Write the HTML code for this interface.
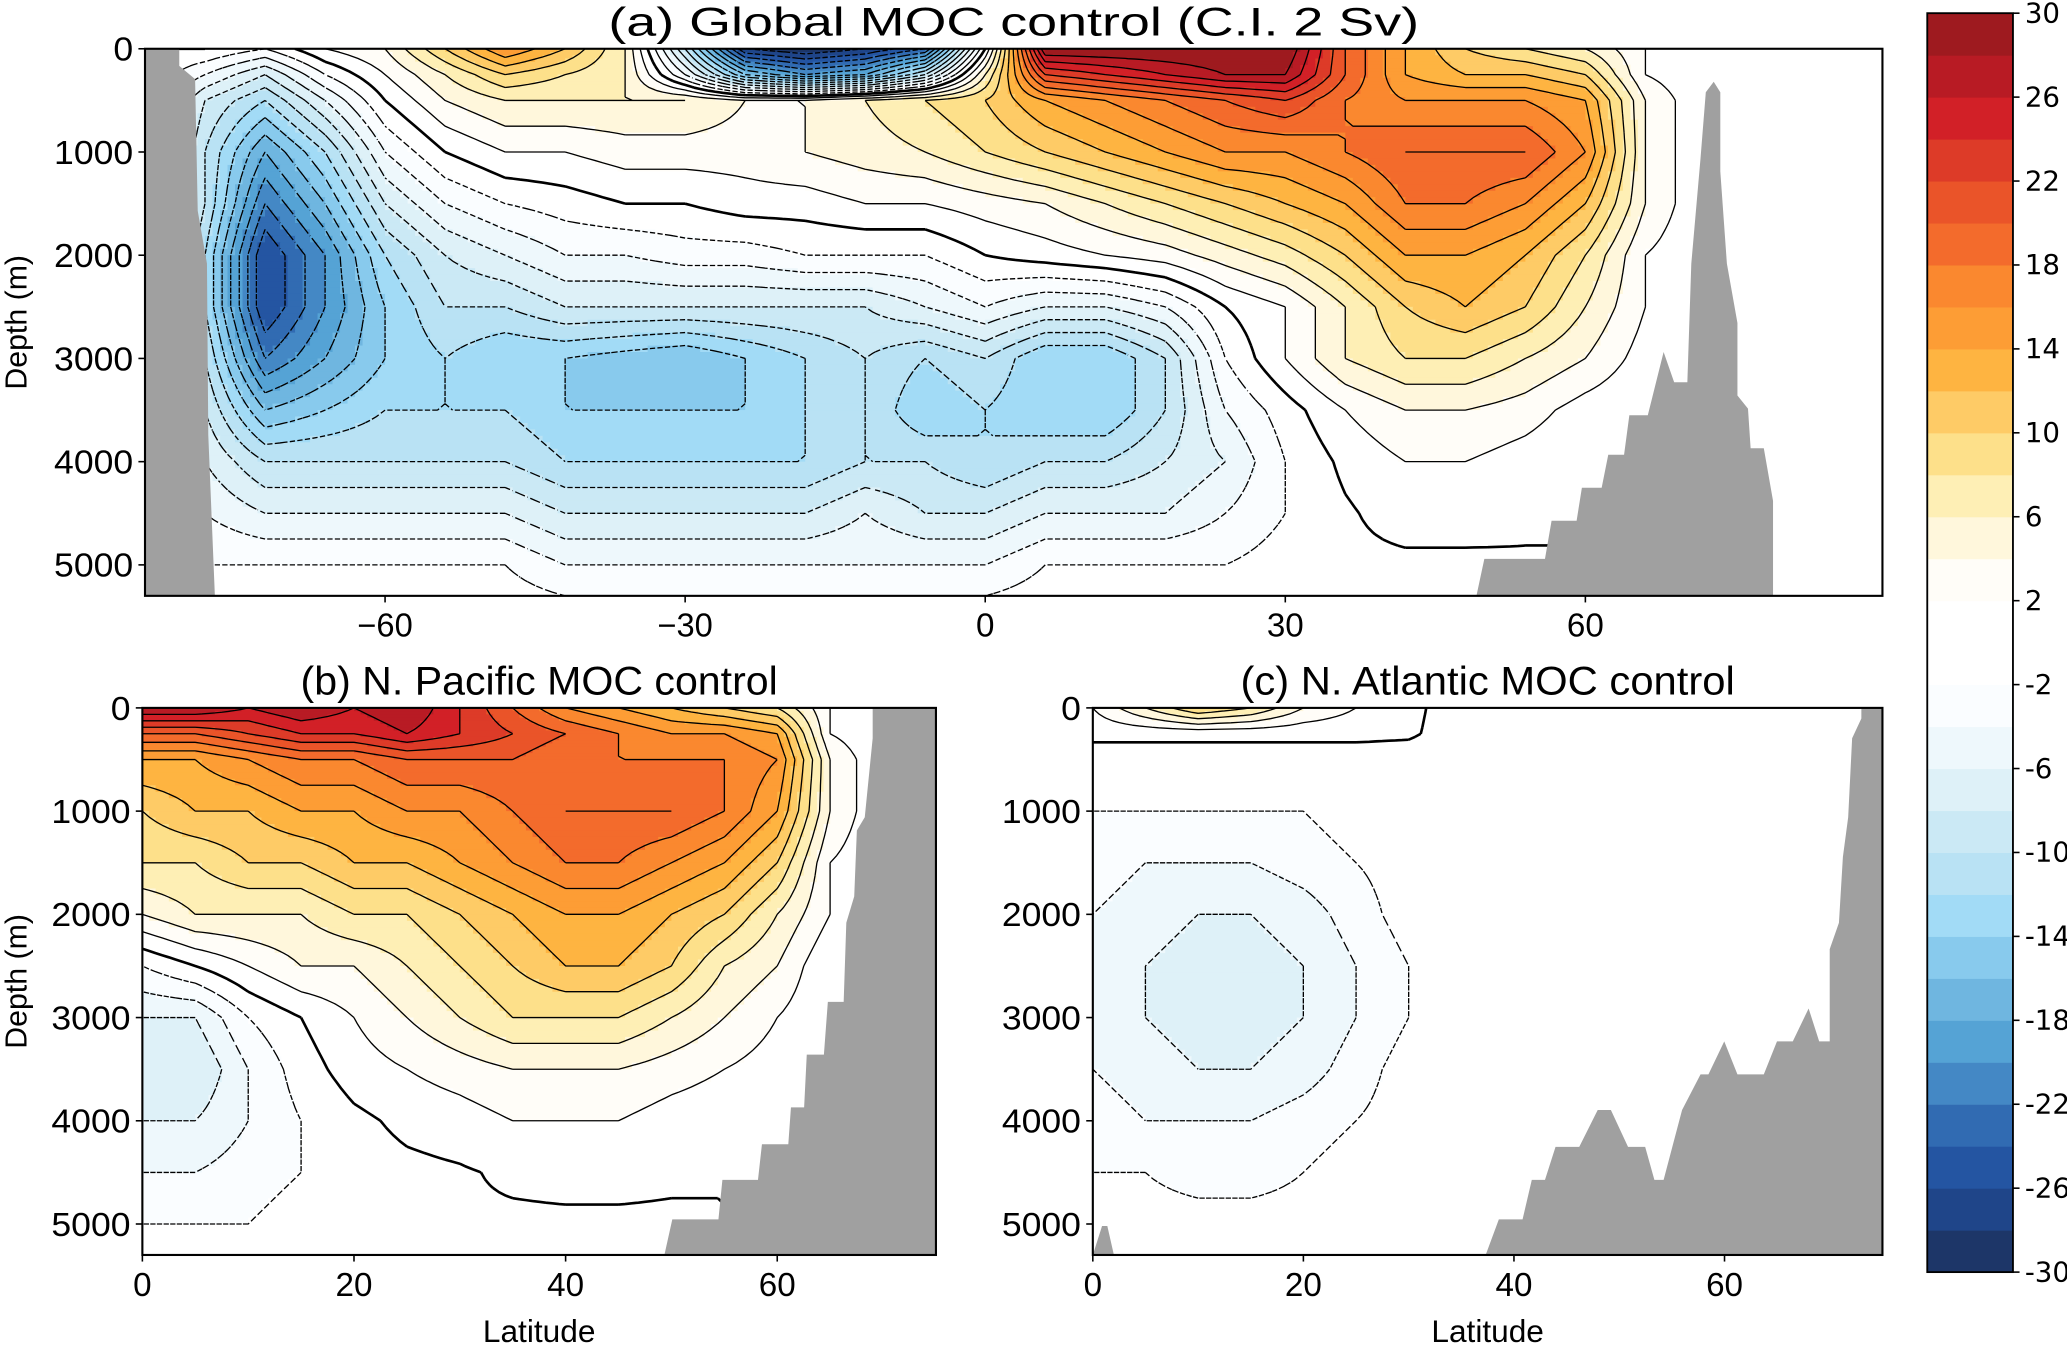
<!DOCTYPE html>
<html><head><meta charset="utf-8"><style>
html,body{margin:0;padding:0;background:#fff;}
svg{display:block;}
text{font-family:"Liberation Sans Narrow","Liberation Sans",sans-serif;fill:#000;}
.tk{font-size:25px;}
.cbt{font-family:"DejaVu Sans","Liberation Sans",sans-serif;font-size:21px;}
</style></head><body>
<svg id="fig" width="2067" height="1345" viewBox="0 0 1568 1020.3" preserveAspectRatio="none" xmlns="http://www.w3.org/2000/svg">
<rect width="1568" height="1021" fill="#fff"/>
<g id="panels"></g>
<g id="cbar"></g>
</svg>
<script>
// ---- data ----
const depthsAll = [0,250,500,1000,1500,2000,2500,3000,3500,4000,4500,5000,5300];
const latsGlobal = [-84,-78,-72,-66,-60,-54,-48,-42,-36,-30,-24,-18,-12,-6,0,6,12,18,24,30,36,42,48,54,60,66,72,78,84,90];
const globalMOC = [
[0,0,-2,2,4,10,16,12,6,-10,-28,-30,-28,-24,0,30,30,30,30,30,20,14,10,8,6,2,0,0,0,0],
[0,-4,-8,-2,2,6,10,8,6,-4,-16,-20,-18,-10,6,22,24,26,28,28,20,14,12,12,10,2,0,0,0,0],
[0,-8,-12,-6,0,4,6,6,6,6,4,4,6,8,10,14,16,18,20,22,18,16,16,16,14,4,0,0,0,0],
[0,-10,-18,-12,-4,0,2,2,3,3,3,4,5,6,8,10,12,14,16,16,18,20,20,20,16,4,0,0,0,0],
[0,-10,-22,-16,-8,-4,-2,-1,0,0,1,1,2,2,3,4,6,8,10,12,14,18,18,16,12,4,0,0,0,0],
[0,-12,-26,-20,-12,-8,-6,-4,-4,-3,-3,-2,-2,-2,0,1,2,3,5,7,10,14,14,12,8,2,0,0,0,0],
[0,-12,-26,-20,-14,-10,-10,-8,-8,-8,-8,-8,-8,-6,-4,-6,-6,-4,0,2,6,10,12,10,6,2,0,0,0,0],
[0,-10,-22,-18,-14,-12,-14,-14,-15,-16,-14,-12,-10,-12,-10,-14,-14,-10,-2,2,6,8,8,6,4,1,0,0,0,0],
[0,-8,-16,-14,-12,-12,-12,-14,-14,-14,-14,-12,-10,-14,-12,-14,-14,-10,-4,-1,2,4,4,3,1,0,0,0,0,0],
[0,-6,-10,-10,-10,-10,-10,-12,-12,-12,-12,-12,-10,-10,-12,-10,-10,-8,-6,-2,0.5,2,2,1,0,0,0,0,0,0],
[0,-4,-6,-6,-6,-6,-6,-8,-8,-8,-8,-8,-6,-8,-8,-6,-6,-6,-4,-2,-0.3,1,1,0.5,0,0,0,0,0,0],
[0,-2,-2,-2,-2,-2,-2,-4,-4,-4,-4,-4,-4,-4,-4,-2,-2,-2,-2,-1,-0.5,-0.5,-0.5,-0.3,0,0,0,0,0,0],
[0,-1,-1,-1,-1,-1,-1,-2,-2,-2,-2,-2,-2,-2,-2,-1,-1,-1,-1,-0.5,-0.3,-0.3,-0.3,-0.3,0,0,0,0,0,0]
];
const latsNorth = [0,5,10,15,20,25,30,35,40,45,50,55,60,65,70,75];
const pacificMOC = [
[28,28,26,28,26,28,24,20,16,14,12,10,8,2,0,0],
[20,20,22,24,24,26,24,22,20,18,16,16,14,2,0,0],
[14,14,16,18,18,20,20,20,18,18,18,18,16,4,0,0],
[10,12,12,14,14,16,16,18,20,20,20,18,14,4,0,0],
[8,8,10,10,12,12,14,16,18,18,16,14,10,2,0,0],
[4,6,6,6,8,8,10,12,14,14,12,10,6,2,0,0],
[-2,0,2,4,4,6,8,10,12,12,10,6,4,0,0,0],
[-6,-6,-2,0,2,4,6,8,8,8,6,4,2,0,0,0],
[-8,-8,-4,-1,1,2,3,4,4,4,3,2,1,0,0,0],
[-6,-6,-4,-2,-0.5,0.5,1,2,2,2,1,0.5,0,0,0,0],
[-4,-4,-3,-2,-1,-0.5,-0.2,0.3,0.5,0.5,0.3,0,0,0,0,0],
[-2,-2,-2,-1,-0.5,-0.3,-0.2,-0.3,-0.3,-0.3,-0.3,0,0,0,0,0],
[-1,-1,-1,-0.5,-0.3,-0.2,-0.2,-0.3,-0.3,-0.3,-0.3,0,0,0,0,0]
];
const atlanticMOC = [
[2,6,10,8,4,2,0.5,-1,-1,-1,-1,-1,-1,-1,-1,-1],
[0.5,0.5,0.5,0.5,0.5,0.5,0.3,-1,-1,-1,-1,-1,-1,-1,-1,-1],
[-1,-1,-1,-1,-1,-1,-1,-1,-1,-1,-1,-1,-1,-1,-1,-1],
[-2,-2,-2,-2,-2,-1,-1,-1,-1,-1,-1,-1,-1,-1,-1,-1],
[-3,-4,-4,-4,-3,-2,-1,-1,-1,-1,-1,-1,-1,-1,-1,-1],
[-4,-5,-6,-6,-5,-3,-1,-1,-1,-1,-1,-1,-1,-1,-1,-1],
[-5,-6,-7,-7,-6,-4,-2,-1,-1,-1,-1,-1,-1,-1,-1,-1],
[-5,-6,-7,-7,-6,-4,-2,-1,-1,-1,-1,-1,-1,-1,-1,-1],
[-4,-5,-6,-6,-5,-3,-1,-1,-1,-1,-1,-1,-1,-1,-1,-1],
[-3,-4,-4,-4,-3,-2,-1,-1,-1,-1,-1,-1,-1,-1,-1,-1],
[-2,-2,-3,-3,-2,-1,-1,-1,-1,-1,-1,-1,-1,-1,-1,-1],
[-1,-1,-1,-1,-1,-1,-1,-1,-1,-1,-1,-1,-1,-1,-1,-1],
[-1,-1,-1,-1,-1,-1,-1,-1,-1,-1,-1,-1,-1,-1,-1,-1]
];
const cbarTicks = [30,26,22,18,14,10,6,2,-2,-6,-10,-14,-18,-22,-26,-30];
const levelColors = ["#1d3668","#1f4589","#2455a2","#316bb2","#4488c5","#55a3d5","#6fb6e0","#88caed","#a2dbf6","#b9e2f4","#cbe9f5","#def1f8","#eef8fc","#fafdff","#ffffff","#ffffff","#fffdf8","#fff7dc","#feefb5","#fde08a","#fecb66","#feb441","#fd9d35","#fa882f","#f36b2c","#ea5429","#dd3b28","#d22027","#b81b24","#9e1a1f"];

const NS="http://www.w3.org/2000/svg";
function mk(tag,attrs,parent){const e=document.createElementNS(NS,tag);for(const k in attrs)e.setAttribute(k,attrs[k]);if(parent)parent.appendChild(e);return e;}
function colorOf(v){let i=Math.floor((v+30)/2);if(i<0)i=0;if(i>29)i=29;return levelColors[i];}

function drawPanel(p){
  const root=document.getElementById('panels');
  const g=mk('g',{},root);
  
  
  const xs=l=>p.x0+(l-p.latMin)/(p.latMax-p.latMin)*(p.x1-p.x0);
  const ys=d=>p.y0+d/5300*(p.y1-p.y0);
  const cid='clip-'+p.name;
  const cp=mk('clipPath',{id:cid},g);mk('rect',{x:p.x0,y:p.y0,width:p.x1-p.x0,height:p.y1-p.y0},cp);
  const fg=mk('g',{'clip-path':'url(#'+cid+')'},g);
  
  
  const S=8;
  const lats=p.lats,deps=depthsAll,V=p.vals;
  const F=[];const FX=[];const FY=[];
  for(let j=0;j<deps.length-1;j++)for(let b=0;b<(j==deps.length-2?S+1:S);b++){
    const t=b/S;FY.push(ys(deps[j]+(deps[j+1]-deps[j])*t));
    const row=[];
    for(let i=0;i<lats.length-1;i++)for(let a=0;a<(i==lats.length-2?S+1:S);a++){
      const s=a/S;
      const v=(1-t)*((1-s)*V[j][i]+s*V[j][i+1])+t*((1-s)*V[j+1][i]+s*V[j+1][i+1]);
      row.push(v);
    }
    F.push(row);
  }
  for(let i=0;i<lats.length-1;i++)for(let a=0;a<(i==lats.length-2?S+1:S);a++)FX.push(xs(lats[i]+(lats[i+1]-lats[i])*a/S));
  for(let r=0;r<F.length-1;r++){
    const yA=FY[r],yB=FY[r+1];
    let c0=0;
    for(let c=1;c<=FX.length-1;c++){
      const col=colorOf((F[r][c0]+F[r+1][c0]+F[r][Math.min(c0+1,FX.length-1)]+F[r+1][Math.min(c0+1,FX.length-1)])/4);
      let nc=null;
      if(c<FX.length-1)nc=colorOf((F[r][c]+F[r+1][c]+F[r][c+1]+F[r+1][c+1])/4);
      if(nc!==col){
        mk('rect',{x:FX[c0].toFixed(2),y:yA.toFixed(2),width:(FX[c]-FX[c0]+0.6).toFixed(2),height:(yB-yA+0.6).toFixed(2),fill:col},fg);
        c0=c;
      }
    }
  }
  const lv=[];for(let L=-28;L<=28;L+=2)lv.push(L);
  lv.forEach(L=>{
    let d='';
    for(let r=0;r<F.length-1;r++)for(let c=0;c<FX.length-1;c++){
      const v=[F[r][c],F[r][c+1],F[r+1][c+1],F[r+1][c]];
      const P=[[FX[c],FY[r]],[FX[c+1],FY[r]],[FX[c+1],FY[r+1]],[FX[c],FY[r+1]]];
      const pts=[];
      for(let k=0;k<4;k++){const a=v[k]-L,b=v[(k+1)%4]-L;
        if((a<0)!==(b<0)){const t=a/(a-b);pts.push([P[k][0]+t*(P[(k+1)%4][0]-P[k][0]),P[k][1]+t*(P[(k+1)%4][1]-P[k][1])]);}}
      if(pts.length>=2){d+='M'+pts[0][0].toFixed(1)+' '+pts[0][1].toFixed(1)+'L'+pts[1][0].toFixed(1)+' '+pts[1][1].toFixed(1);
        if(pts.length==4)d+='M'+pts[2][0].toFixed(1)+' '+pts[2][1].toFixed(1)+'L'+pts[3][0].toFixed(1)+' '+pts[3][1].toFixed(1);}
    }
    if(d){const pa=mk('path',{d:d,fill:'none',stroke:'#000','stroke-width':L==0?2:1,'stroke-dasharray':L<0?'4 2':'none'},fg);
      
      }
  });
  p.land.forEach(poly=>{const lp=mk('polygon',{points:poly.map(q=>q.join(',')).join(' '),fill:'#a0a0a0'},fg);
    
    });
  const fr=mk('rect',{x:p.x0,y:p.y0,width:p.x1-p.x0,height:p.y1-p.y0,fill:'none',stroke:'#000','stroke-width':1.6},g);
  
  
  [0,1000,2000,3000,4000,5000].forEach(d=>{
    mk('line',{x1:p.x0-5,x2:p.x0,y1:ys(d),y2:ys(d),stroke:'#000','stroke-width':1.2},g);
    const s=String(d);
    const t=mk('text',{x:p.x0-9,y:ys(d)+9,'text-anchor':'end','class':'tk',textLength:s.length*15,lengthAdjust:'spacingAndGlyphs'},g);t.textContent=s;
    
    
  });
  p.xticks.forEach(l=>{
    mk('line',{x1:xs(l),x2:xs(l),y1:p.y1,y2:p.y1+5,stroke:'#000','stroke-width':1.2},g);
    const s=(l<0?'\u2212'+(-l):String(l));
    const t=mk('text',{x:xs(l),y:p.y1+31,'text-anchor':'middle','class':'tk',textLength:s.length*14,lengthAdjust:'spacingAndGlyphs'},g);t.textContent=s;
    
    
  });
  const tt=mk('text',{x:(p.x0+p.x1)/2,y:p.y0-10,'text-anchor':'middle','font-size':'30',textLength:p.titleW,lengthAdjust:'spacingAndGlyphs'},g);tt.textContent=p.title;
  
  
  if(p.ylabel){const yl=mk('text',{x:0,y:0,'text-anchor':'middle','font-size':'23','font-family':'DejaVu Sans, sans-serif',transform:'translate(20,'+((p.y0+p.y1)/2)+') rotate(-90)'},g);yl.textContent='Depth (m)';
    
    }
  if(p.xlabel){const xl=mk('text',{x:(p.x0+p.x1)/2,y:1018,'text-anchor':'middle','font-size':'24','font-family':'DejaVu Sans, sans-serif'},g);xl.textContent='Latitude';
    
    }
}

drawPanel({name:'global-panel',title:'(a) Global MOC control  (C.I. 2 Sv)',titleW:615,x0:110,x1:1428,y0:37,y1:452,latMin:-84,latMax:89.7,lats:latsGlobal,vals:globalMOC,xticks:[-60,-30,0,30,60],ylabel:true,xlabel:false,
 land:[[[110,37],[136,37],[136,50],[148,60],[150,160],[157,200],[158,330],[163,452],[110,452]],
 [[1120,452],[1126,424],[1172,424],[1177,395],[1196,395],[1200,370],[1215,370],[1220,345],[1232,345],[1236,315],[1250,315],[1262,267],[1270,290],[1280,290],[1283,200],[1290,120],[1294,70],[1300,62],[1305,70],[1305,130],[1310,200],[1318,245],[1318,300],[1326,310],[1328,340],[1338,340],[1345,380],[1345,452]]]});
drawPanel({name:'pacific-panel',title:'(b) N. Pacific MOC control',titleW:362,x0:108,x1:710,y0:537,y1:952,latMin:0,latMax:75,lats:latsNorth,vals:pacificMOC,xticks:[0,20,40,60],ylabel:true,xlabel:true,
 land:[[[662,537],[710,537],[710,952],[504,952],[510,925],[545,925],[548,895],[575,895],[578,868],[598,868],[600,840],[610,840],[612,800],[625,800],[628,760],[640,760],[642,700],[648,680],[650,630],[656,620],[662,560]]]});
drawPanel({name:'atlantic-panel',title:'(c) N. Atlantic MOC control',titleW:375,x0:829,x1:1428,y0:537,y1:952,latMin:0,latMax:75,lats:latsNorth,vals:atlanticMOC,xticks:[0,20,40,60],ylabel:false,xlabel:true,
 land:[[[1127,952],[1137,925],[1155,925],[1162,895],[1172,895],[1180,870],[1198,870],[1212,842],[1222,842],[1235,870],[1248,870],[1255,895],[1262,895],[1276,842],[1290,815],[1296,815],[1308,790],[1318,815],[1338,815],[1348,790],[1360,790],[1372,765],[1380,790],[1388,790],[1388,720],[1395,700],[1398,650],[1402,620],[1405,560],[1412,545],[1412,537],[1428,537],[1428,952]],
 [[829,952],[836,930],[840,930],[845,952]]]});

(function(){
  const cb=document.getElementById('cbar');
  const x0=1462,x1=1527,yT=10,yB=965;
  const yv=v=>yT+(30-v)/60*(yB-yT);
  for(let i=0;i<30;i++){const lo=-30+2*i;
    const r=mk('rect',{x:x0,y:yv(lo+2),width:x1-x0,height:yv(lo)-yv(lo+2)+0.4,fill:levelColors[i]},cb);
    
    }
  mk('rect',{x:x0,y:yT,width:x1-x0,height:yB-yT,fill:'none',stroke:'#000','stroke-width':1.4},cb);
  cbarTicks.forEach(v=>{mk('line',{x1:x1,x2:x1+5,y1:yv(v),y2:yv(v),stroke:'#000','stroke-width':1.2},cb);
    const t=mk('text',{x:x1+9,y:yv(v)+7,'class':'cbt'},cb);t.textContent=v;
    
    });
})();
</script>
</body></html>
